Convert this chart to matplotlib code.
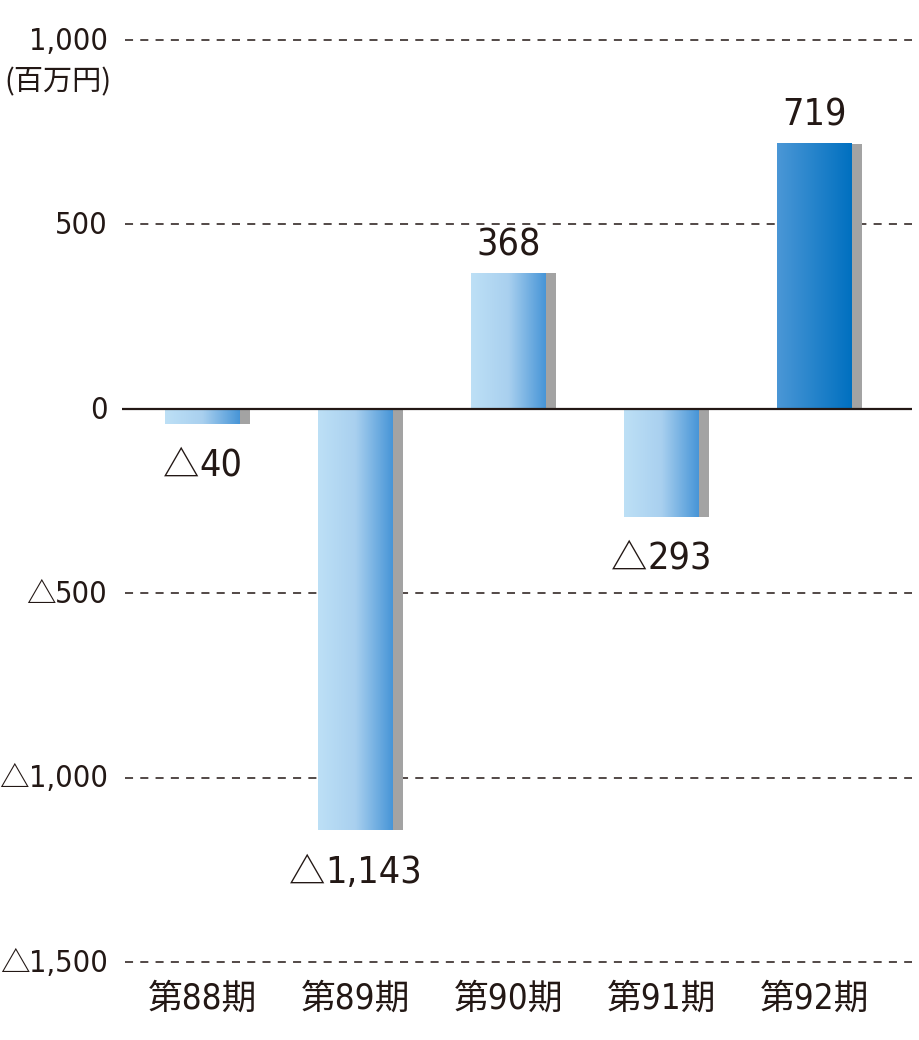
import numpy as np
import matplotlib.pyplot as plt
from matplotlib import font_manager
from matplotlib.colors import LinearSegmentedColormap
from matplotlib.offsetbox import TextArea, HPacker, AnnotationBbox

# look for a narrow face for the numbers
narrow = None
for f in font_manager.fontManager.ttflist:
    if f.style == 'normal' and f.weight in (400, 'normal', 'regular') and \
            (f.stretch in ('condensed', 'semi-condensed') or 'Condensed' in f.name or 'Narrow' in f.name):
        narrow = f.name
        narrow_stretch = f.stretch
        break

NUM_FAMILY = [narrow, 'Noto Sans CJK JP'] if narrow else ['Noto Sans CJK JP']
plt.rcParams['font.family'] = NUM_FAMILY
if narrow:
    plt.rcParams['font.stretch'] = narrow_stretch
plt.rcParams['lines.scale_dashes'] = False

# data
periods = ['第88期', '第89期', '第90期', '第91期', '第92期']
values = [-40, -1143, 368, -293, 719]
yticks = [1000, 500, 0, -500, -1000, -1500]

TEXT = '#231815'


def num_box(v, size):
    # triangle (negative sign) in the CJK face, digits in the narrow face
    parts = []
    if v < 0:
        parts.append(TextArea('△', textprops=dict(family=['Noto Sans CJK JP'], stretch='normal',
                                                  fontsize=size * 0.97, color=TEXT)))
    parts.append(TextArea(f'{abs(v):,}', textprops=dict(family=NUM_FAMILY, fontsize=size, color=TEXT)))
    return HPacker(children=parts, pad=0, sep=0, align='baseline')


fig = plt.figure(figsize=(9.2, 10.4), dpi=100)
ax = fig.add_axes([122 / 920, 1 - 962 / 1040, 790 / 920, 922 / 1040])

# gradient maps
light = LinearSegmentedColormap.from_list('light', ['#bde0f6', '#a9d0ef', '#4795d7'])
dark = LinearSegmentedColormap.from_list('dark', ['#4b97d6', '#0070c0'])
grad = np.linspace(0, 1, 256).reshape(1, -1)

bar_w = 0.49
shadow_w = 0.066
for i, v in enumerate(values):
    x0 = i - bar_w / 2
    x1 = i + bar_w / 2
    # grey shadow on the right side
    ax.bar(x1, v, width=shadow_w, align='edge', color='#a3a3a3', zorder=2, linewidth=0)
    cmap = dark if i == len(values) - 1 else light
    ax.imshow(grad, extent=[x0, x1, min(0, v), max(0, v)], aspect='auto',
              cmap=cmap, zorder=3, interpolation='bicubic')
    if v >= 0:
        ab = AnnotationBbox(num_box(v, 27), (i, v), xybox=(0, 7), boxcoords='offset points',
                            box_alignment=(0.5, 0), frameon=False, pad=0)
    else:
        ab = AnnotationBbox(num_box(v, 27), (i, v), xybox=(0, -18), boxcoords='offset points',
                            box_alignment=(0.5, 1), frameon=False, pad=0)
    ax.add_artist(ab)

# dashed grid lines and zero line
for t in yticks:
    if t == 0:
        ax.axhline(0, color=TEXT, lw=1.6, zorder=4)
    else:
        ax.plot([-0.505, 4.637], [t, t], color=TEXT, lw=1.1,
                linestyle=(0, (5.8, 5.2)), zorder=1, clip_on=False)

# y tick labels
for t in yticks:
    ab = AnnotationBbox(num_box(t, 22), (0, t), xycoords=ax.get_yaxis_transform(),
                        xybox=(-10, -1), boxcoords='offset points',
                        box_alignment=(1, 0.5), frameon=False, pad=0, annotation_clip=False)
    ax.add_artist(ab)

ax.set_xlim(-0.526, 4.637)
ax.set_ylim(-1500, 1000)
ax.set_yticks([])
ax.set_xticks(range(len(periods)))
ax.set_xticklabels(periods, fontsize=25, color=TEXT)
ax.tick_params(axis='x', length=0, pad=14)
for s in ax.spines.values():
    s.set_visible(False)

fig.text(4 / 920, 1 - 82 / 1040, '(百万円)', fontsize=21, color=TEXT,
         ha='left', va='center', family=['Noto Sans CJK JP'], stretch='normal')

fig.savefig('out.png', dpi=100)
